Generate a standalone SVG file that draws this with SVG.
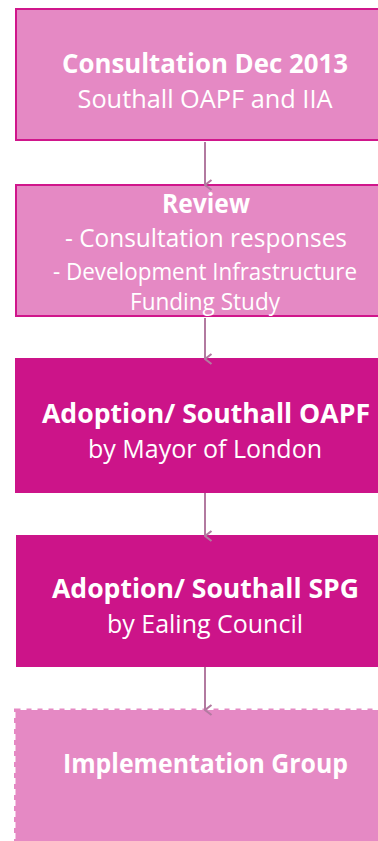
<svg xmlns="http://www.w3.org/2000/svg" width="378" height="841" viewBox="0 0 378 841">
  <defs>
    <style>
      .light { fill: #e589c4; stroke: #d0168b; stroke-width: 2; }
      .dark { fill: #cc1489; }
      .dashed { fill: #e589c4; stroke: #e589c4; stroke-width: 3; stroke-dasharray: 5 6; }
      text { fill: #ffffff; font-family: "Open Sans", "Noto Sans", sans-serif; text-anchor: middle; }
      .b { font-weight: bold; font-size: 26px; }
      .r { font-size: 26px; }
      .s { font-size: 23px; }
      .conn { stroke: #b27aa0; stroke-width: 2; fill: none; }
    </style>
    <marker id="chev" markerUnits="userSpaceOnUse" markerWidth="14" markerHeight="10" refX="7" refY="8.5" orient="auto" viewBox="0 0 14 10">
      <path d="M2,2 L7,8.5 L12,2" fill="none" stroke="#b27aa0" stroke-width="2.2"/>
    </marker>
  </defs>

  <rect width="378" height="841" fill="#ffffff"/>

  <g id="consultation">
    <rect class="light" x="16" y="9" width="380" height="131"/>
    <text class="b" x="205" y="73" textLength="286" lengthAdjust="spacingAndGlyphs">Consultation Dec 2013</text>
    <text class="r" x="205" y="108" textLength="255" lengthAdjust="spacingAndGlyphs">Southall OAPF and IIA</text>
  </g>

  <g id="review">
    <rect class="light" x="16" y="185" width="380" height="131"/>
    <text class="b" x="206" y="213" textLength="88" lengthAdjust="spacingAndGlyphs">Review</text>
    <text class="r" x="206" y="247" textLength="282" lengthAdjust="spacingAndGlyphs">- Consultation responses</text>
    <text class="s" x="205" y="280" textLength="304" lengthAdjust="spacingAndGlyphs">- Development Infrastructure</text>
    <text class="s" x="205" y="310" textLength="150" lengthAdjust="spacingAndGlyphs">Funding Study</text>
  </g>

  <g id="adoption-oapf">
    <rect class="dark" x="15" y="358" width="385" height="135"/>
    <text class="b" x="206" y="423" textLength="328" lengthAdjust="spacingAndGlyphs">Adoption/ Southall OAPF</text>
    <text class="r" x="205" y="458" textLength="234" lengthAdjust="spacingAndGlyphs">by Mayor of London</text>
  </g>

  <g id="adoption-spg">
    <rect class="dark" x="16" y="535" width="384" height="132"/>
    <text class="b" x="205.5" y="598" textLength="307" lengthAdjust="spacingAndGlyphs">Adoption/ Southall SPG</text>
    <text class="r" x="205" y="633" textLength="196" lengthAdjust="spacingAndGlyphs">by Ealing Council</text>
  </g>

  <g id="implementation">
    <rect class="dashed" x="15.5" y="710" width="390" height="150"/>
    <text class="b" x="205.5" y="773" textLength="285" lengthAdjust="spacingAndGlyphs">Implementation Group</text>
  </g>

  <!-- arrows drawn last so the chevrons sit on top of each box edge -->
  <g id="connectors">
    <line class="conn" x1="205" y1="142" x2="205" y2="185" marker-end="url(#chev)"/>
    <line class="conn" x1="205" y1="318" x2="205" y2="359" marker-end="url(#chev)"/>
    <line class="conn" x1="205" y1="493" x2="205" y2="536" marker-end="url(#chev)"/>
    <line class="conn" x1="205" y1="667" x2="205" y2="710" marker-end="url(#chev)"/>
  </g>
</svg>
